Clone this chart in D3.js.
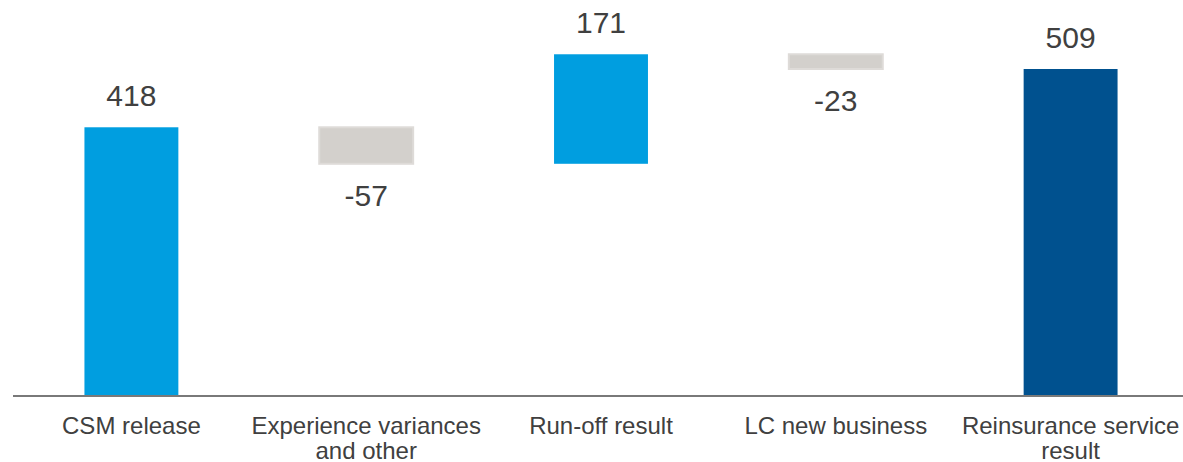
<!DOCTYPE html>
<html>
<head>
<meta charset="utf-8">
<script src="https://cdn.jsdelivr.net/npm/d3@7"></script>
<style>
  html, body { margin: 0; padding: 0; background: #ffffff; }
  svg { display: block; }
  text { font-family: "Liberation Sans", Arial, sans-serif; fill: #404040; }
</style>
</head>
<body>
<svg id="chart" width="1183" height="462"></svg>
<script>
// Waterfall steps (EUR m)
const categories = ["CSM release", "Experience variances and other", "Run-off result", "LC new business", "Reinsurance service result"];
const labelLines = [["CSM release"], ["Experience variances", "and other"], ["Run-off result"], ["LC new business"], ["Reinsurance service", "result"]];
const values = [418, -57, 171, -23, 509];
const kinds = ["step", "step", "step", "step", "total"];

const W = 1183, H = 462;
const baseY = 395;

// Build start/end of each waterfall bar
let running = 0;
const bars = categories.map((c, i) => {
  let start, end;
  if (kinds[i] === "total") { start = 0; end = values[i]; running = values[i]; }
  else { start = running; end = running + values[i]; running = end; }
  return { cat: c, lines: labelLines[i], value: values[i], kind: kinds[i], start, end };
});

const svg = d3.select("#chart");

const x = d3.scaleBand().domain(categories).range([14, 1188]).paddingInner(0.6).paddingOuter(0.3);
const y = d3.scaleLinear().domain([0, 509]).range([baseY, 69]);

const colorOf = d => d.kind === "total" ? "#00518f" : (d.value >= 0 ? "#009ee0" : "#d3d0cc");

// Bars
svg.append("g").selectAll("rect").data(bars).join("rect")
  .attr("x", d => x(d.cat))
  .attr("width", x.bandwidth())
  .attr("y", d => y(Math.max(d.start, d.end)))
  .attr("height", d => Math.abs(y(d.start) - y(d.end)))
  .attr("fill", colorOf)
  .attr("stroke", d => d.value < 0 ? "#dedbd8" : "none")
  .attr("stroke-width", d => d.value < 0 ? 2 : 0);

// Value labels: above positive bars, below negative ones
svg.append("g").selectAll("text").data(bars).join("text")
  .attr("x", d => x(d.cat) + x.bandwidth() / 2)
  .attr("y", d => d.value >= 0 ? y(Math.max(d.start, d.end)) - 21 : y(Math.min(d.start, d.end)) + 42)
  .attr("text-anchor", "middle")
  .attr("font-size", 30)
  .text(d => d.value);

// Baseline
svg.append("line")
  .attr("x1", 13).attr("x2", W)
  .attr("y1", baseY + 1).attr("y2", baseY + 1)
  .attr("stroke", "#4d4d4d").attr("stroke-width", 1.5);

// Category labels
const cat = svg.append("g").selectAll("text").data(bars).join("text")
  .attr("text-anchor", "middle")
  .attr("font-size", 24)
  .attr("transform", d => `translate(${x(d.cat) + x.bandwidth() / 2},434)`);
cat.selectAll("tspan").data(d => d.lines).join("tspan")
  .attr("x", 0)
  .attr("y", (d, i) => i * 25)
  .text(d => d);
</script>
</body>
</html>
